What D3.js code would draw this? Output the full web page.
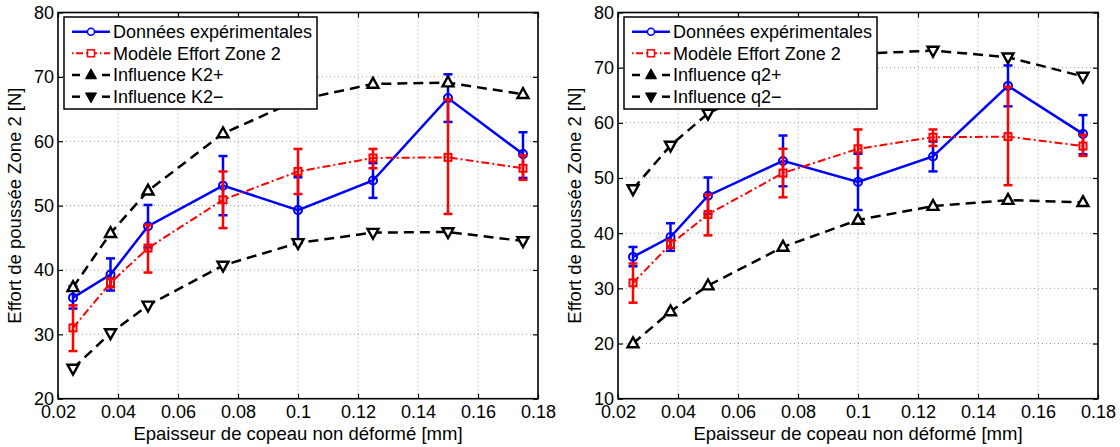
<!DOCTYPE html>
<html>
<head>
<meta charset="utf-8">
<script src="https://cdn.jsdelivr.net/npm/d3@7"></script>
<style>
  html, body { margin: 0; padding: 0; background: #fff; }
  svg { display: block; font-family: "Liberation Sans", Arial, Helvetica, sans-serif; }
</style>
</head>
<body>
<svg id="chart" width="1120" height="447"></svg>
<script>
// ---------- data ----------
const xValues   = [0.025, 0.0375, 0.05, 0.075, 0.1, 0.125, 0.15, 0.175];
const expMean   = [35.7, 39.3, 46.8, 53.1, 49.3, 53.9, 66.7, 58.0];
const expLow    = [34.0, 36.8, 43.5, 48.5, 44.2, 51.2, 63.0, 54.3];
const expHigh   = [37.5, 41.8, 50.1, 57.7, 54.4, 56.6, 70.4, 61.4];
const modelMean = [31.0, 38.0, 43.4, 50.9, 55.3, 57.4, 57.5, 55.8];
const modelLow  = [27.4, 37.3, 39.6, 46.5, 51.8, 55.8, 48.7, 54.0];
const modelHigh = [34.5, 38.7, 47.0, 55.3, 58.8, 58.8, 66.5, 57.8];
const k2Plus    = [37.3, 45.7, 52.3, 61.2, 66.4, 68.9, 69.1, 67.3];
const k2Minus   = [24.7, 30.2, 34.5, 40.7, 44.2, 45.8, 45.9, 44.5];
const q2Plus    = [20.0, 25.8, 30.5, 37.5, 42.4, 44.9, 46.0, 45.6];
const q2Minus   = [48.0, 55.9, 61.7, 68.3, 72.5, 73.1, 71.9, 68.4];

const xTicks = [0.02, 0.04, 0.06, 0.08, 0.1, 0.12, 0.14, 0.16, 0.18];
const xTickLabels = ["0.02", "0.04", "0.06", "0.08", "0.1", "0.12", "0.14", "0.16", "0.18"];
const yTicksLeft = [20, 30, 40, 50, 60, 70, 80];
const yTicksRight = [10, 20, 30, 40, 50, 60, 70, 80];

const legendLeft = ["Données expérimentales", "Modèle Effort Zone 2", "Influence K2+", "Influence K2\u2212"];
const legendRight = ["Données expérimentales", "Modèle Effort Zone 2", "Influence q2+", "Influence q2\u2212"];
const xTitle = "Epaisseur de copeau non déformé [mm]";
const yTitle = "Effort de poussée Zone 2 [N]";

// ---------- drawing ----------
const svg = d3.select("#chart");
const BLUE = "#0000ff", RED = "#ff0000", BLACK = "#000000";
const FS = 18;

function triPath(cx, cy, s, up) {
  const h = s * 0.9;
  if (up) return `M${cx},${cy - h * 0.62}L${cx + s / 2},${cy + h * 0.38}L${cx - s / 2},${cy + h * 0.38}Z`;
  return `M${cx},${cy + h * 0.62}L${cx + s / 2},${cy - h * 0.38}L${cx - s / 2},${cy - h * 0.38}Z`;
}

function drawPanel(opt) {
  const g = svg.append("g");
  const x = d3.scaleLinear().domain([0.02, 0.18]).range([opt.x0, opt.x1]);
  const y = d3.scaleLinear().domain(opt.yDomain).range([398.7, 12.5]);
  const [X0, X1] = x.range();
  const [Y0, Y1] = y.range(); // Y0 bottom, Y1 top

  // grid
  const grid = g.append("g").attr("stroke", "#9a9a9a").attr("stroke-width", 1).attr("stroke-dasharray", "1,3");
  xTicks.slice(1, -1).forEach(t => grid.append("line").attr("x1", x(t)).attr("x2", x(t)).attr("y1", Y0).attr("y2", Y1));
  opt.yTicks.slice(1, -1).forEach(t => grid.append("line").attr("x1", X0).attr("x2", X1).attr("y1", y(t)).attr("y2", y(t)));

  // axes using d3 axes (inward ticks)
  const ax = g.append("g").attr("transform", `translate(0,${Y0})`)
    .call(d3.axisBottom(x).tickValues(xTicks).tickFormat((d, i) => xTickLabels[i]).tickSizeInner(-5).tickSizeOuter(0).tickPadding(9));
  const axTop = g.append("g").attr("transform", `translate(0,${Y1})`)
    .call(d3.axisTop(x).tickValues(xTicks).tickFormat("").tickSizeInner(-5).tickSizeOuter(0));
  const ay = g.append("g").attr("transform", `translate(${X0},0)`)
    .call(d3.axisLeft(y).tickValues(opt.yTicks).tickFormat(d3.format("d")).tickSizeInner(-5).tickSizeOuter(0).tickPadding(4));
  const ayR = g.append("g").attr("transform", `translate(${X1},0)`)
    .call(d3.axisRight(y).tickValues(opt.yTicks).tickFormat("").tickSizeInner(-5).tickSizeOuter(0));
  [ax, axTop, ay, ayR].forEach(a => {
    a.select(".domain").remove();
    a.selectAll(".tick line").attr("stroke", BLACK).attr("stroke-width", 1.2);
    a.selectAll("text").attr("font-size", FS).attr("fill", BLACK).attr("font-family", null);
  });
  ax.selectAll("text").attr("dy", "0.6em");
  ay.selectAll("text").attr("dy", "0.33em");
  // frame
  g.append("rect").attr("x", X0).attr("y", Y1).attr("width", X1 - X0).attr("height", Y0 - Y1)
    .attr("fill", "none").attr("stroke", BLACK).attr("stroke-width", 1.6);

  const line = d3.line().x((d, i) => x(xValues[i])).y(d => y(d));

  // experimental (blue)
  const gb = g.append("g");
  gb.append("path").datum(expMean).attr("d", line).attr("fill", "none").attr("stroke", BLUE).attr("stroke-width", 2.5);
  xValues.forEach((xv, i) => {
    const cx = x(xv);
    gb.append("line").attr("x1", cx).attr("x2", cx).attr("y1", y(expLow[i])).attr("y2", y(expHigh[i])).attr("stroke", BLUE).attr("stroke-width", 2.5);
    [expLow[i], expHigh[i]].forEach(v => gb.append("line").attr("x1", cx - 4.5).attr("x2", cx + 4.5).attr("y1", y(v)).attr("y2", y(v)).attr("stroke", BLUE).attr("stroke-width", 2.5));
    gb.append("circle").attr("cx", cx).attr("cy", y(expMean[i])).attr("r", 4).attr("fill", "none").attr("stroke", BLUE).attr("stroke-width", 2);
  });

  // model (red)
  const gr = g.append("g");
  gr.append("path").datum(modelMean).attr("d", line).attr("fill", "none").attr("stroke", RED).attr("stroke-width", 2)
    .attr("stroke-dasharray", "8,3,2,3");
  xValues.forEach((xv, i) => {
    const cx = x(xv);
    gr.append("line").attr("x1", cx).attr("x2", cx).attr("y1", y(modelLow[i])).attr("y2", y(modelHigh[i])).attr("stroke", RED).attr("stroke-width", 2.5);
    [modelLow[i], modelHigh[i]].forEach(v => gr.append("line").attr("x1", cx - 4.5).attr("x2", cx + 4.5).attr("y1", y(v)).attr("y2", y(v)).attr("stroke", RED).attr("stroke-width", 2.5));
    gr.append("rect").attr("x", cx - 3.5).attr("y", y(modelMean[i]) - 3.5).attr("width", 7).attr("height", 7)
      .attr("fill", "none").attr("stroke", RED).attr("stroke-width", 2);
  });

  // influence curves
  [[opt.plus, true], [opt.minus, false]].forEach(([vals, up]) => {
    const gk = g.append("g");
    gk.append("path").datum(vals).attr("d", line).attr("fill", "none").attr("stroke", BLACK).attr("stroke-width", 2.5)
      .attr("stroke-dasharray", "10,6");
    xValues.forEach((xv, i) => {
      gk.append("path").attr("d", triPath(x(xv), y(vals[i]), 11, up)).attr("fill", "#fff").attr("stroke", BLACK).attr("stroke-width", 2.4);
    });
  });

  // legend
  const lg = g.append("g").attr("transform", `translate(${X0 + 6},17)`);
  lg.append("rect").attr("x", 0).attr("y", 0).attr("width", 253).attr("height", 92)
    .attr("fill", "#fff").attr("stroke", BLACK).attr("stroke-width", 1.5);
  const rows = [14.7, 36.3, 58, 79.7];
  const lx0 = 8, lx1 = 46, mx = 27, tx = 49;
  // row 1
  lg.append("line").attr("x1", lx0).attr("x2", lx1).attr("y1", rows[0]).attr("y2", rows[0]).attr("stroke", BLUE).attr("stroke-width", 2.5);
  lg.append("circle").attr("cx", mx).attr("cy", rows[0]).attr("r", 3.5).attr("fill", "#fff").attr("stroke", BLUE).attr("stroke-width", 1.5);
  // row 2
  lg.append("line").attr("x1", lx0).attr("x2", lx1).attr("y1", rows[1]).attr("y2", rows[1]).attr("stroke", RED).attr("stroke-width", 2).attr("stroke-dasharray", "1.5,2.5,7,3");
  lg.append("rect").attr("x", mx - 3.5).attr("y", rows[1] - 3.5).attr("width", 7).attr("height", 7).attr("fill", "#fff").attr("stroke", RED).attr("stroke-width", 1.5);
  // rows 3 & 4
  [[rows[2], true], [rows[3], false]].forEach(([ry, up]) => {
    lg.append("line").attr("x1", lx0).attr("x2", lx0 + 8).attr("y1", ry).attr("y2", ry).attr("stroke", BLACK).attr("stroke-width", 2.5);
    lg.append("line").attr("x1", lx1 - 8).attr("x2", lx1).attr("y1", ry).attr("y2", ry).attr("stroke", BLACK).attr("stroke-width", 2.5);
    lg.append("path").attr("d", triPath(mx, ry, 11, up)).attr("fill", BLACK).attr("stroke", BLACK).attr("stroke-width", 1);
  });
  opt.legend.forEach((t, i) => {
    lg.append("text").attr("x", tx).attr("y", rows[i]).attr("dy", "0.36em").attr("font-size", FS).attr("fill", BLACK).text(t);
  });

  // axis titles
  g.append("text").attr("x", (X0 + X1) / 2).attr("y", 440).attr("text-anchor", "middle").attr("font-size", 18.5).text(xTitle);
  g.append("text").attr("transform", `translate(${X0 - 37},${(Y0 + Y1) / 2}) rotate(-90)`).attr("text-anchor", "middle")
    .attr("font-size", 18.5).text(yTitle);
}

drawPanel({ x0: 58, x1: 538, yDomain: [20, 80], yTicks: yTicksLeft, plus: k2Plus, minus: k2Minus, legend: legendLeft });
drawPanel({ x0: 618, x1: 1098, yDomain: [10, 80], yTicks: yTicksRight, plus: q2Plus, minus: q2Minus, legend: legendRight });
</script>
</body>
</html>
